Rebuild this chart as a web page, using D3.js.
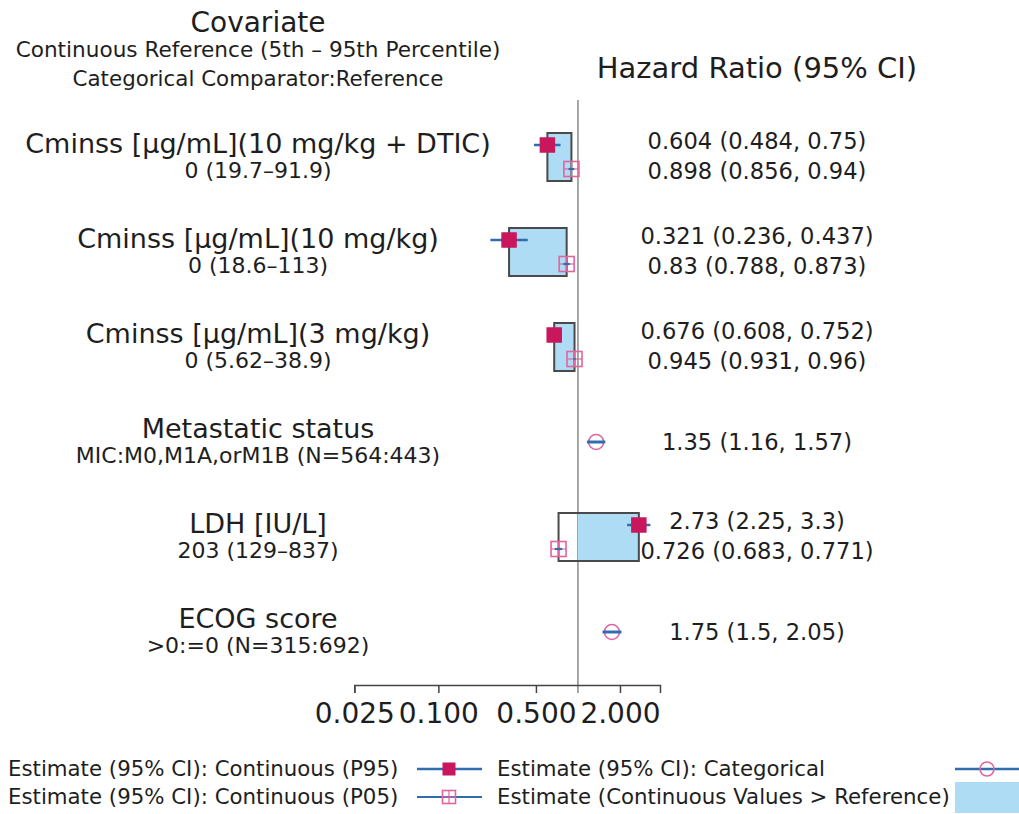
<!DOCTYPE html>
<html>
<head>
<meta charset="utf-8">
<script src="https://cdn.jsdelivr.net/npm/d3@7"></script>
<style>
  html, body { margin: 0; padding: 0; background: #fff; }
  svg { display: block; font-family: "DejaVu Sans", Verdana, sans-serif; }
</style>
</head>
<body>
<svg id="chart" width="1019" height="814"></svg>
<script>
// Covariate rows (top to bottom)
const covariates = [
  "Cminss [µg/mL](10 mg/kg + DTIC)",
  "Cminss [µg/mL](10 mg/kg)",
  "Cminss [µg/mL](3 mg/kg)",
  "Metastatic status",
  "LDH [IU/L]",
  "ECOG score"
];
const subLabels = [
  "0 (19.7–91.9)",
  "0 (18.6–113)",
  "0 (5.62–38.9)",
  "MIC:M0,M1A,orM1B (N=564:443)",
  "203 (129–837)",
  ">0:=0 (N=315:692)"
];

// Continuous covariates: hazard ratio at the 95th percentile
const p95Est = [0.604, 0.321, 0.676, null, 2.73, null];
const p95Lo  = [0.484, 0.236, 0.608, null, 2.25, null];
const p95Hi  = [0.75,  0.437, 0.752, null, 3.3,  null];
// Continuous covariates: hazard ratio at the 5th percentile
const p05Est = [0.898, 0.83,  0.945, null, 0.726, null];
const p05Lo  = [0.856, 0.788, 0.931, null, 0.683, null];
const p05Hi  = [0.94,  0.873, 0.96,  null, 0.771, null];
// Categorical covariates
const catEst = [null, null, null, 1.35, null, 1.75];
const catLo  = [null, null, null, 1.16, null, 1.5];
const catHi  = [null, null, null, 1.57, null, 2.05];

// Axis
const axisTicks = [0.025, 0.1, 0.5, 2];
const axisTickLabels = ["0.025", "0.100", "0.500", "2.000"];
const axisDomain = [0.025, 3.87];
const referenceHR = 1;

const legendLabels = [
  "Estimate (95% CI): Continuous (P95)",
  "Estimate (95% CI): Continuous (P05)",
  "Estimate (95% CI): Categorical",
  "Estimate (Continuous Values > Reference)"
];

const C = {
  text: "#1e1e1e",
  ci: "#2f6db0",
  p95: "#c8175d",
  open: "#e0659d",
  boxFill: "#aedcf5",
  boxStroke: "#4a4a4a",
  refLine: "#8a8a8a",
  axis: "#444"
};

const svg = d3.select("#chart");

const x = d3.scaleLog().domain(axisDomain).range([354.3, 660]);
const rows = d3.range(covariates.length);
const y = d3.scalePoint().domain(rows).range([157, 632]);

const labelX = 258;
const valueX = 757;
const fmtCI = (e, l, h) => `${e} (${l}, ${h})`;

// Column headers
const head = svg.append("g").attr("fill", C.text).attr("text-anchor", "middle");
head.append("text").attr("x", labelX).attr("y", 32).attr("font-size", 28).text("Covariate");
head.append("text").attr("x", labelX).attr("y", 57).attr("font-size", 21.6)
  .text("Continuous Reference (5th – 95th Percentile)");
head.append("text").attr("x", labelX).attr("y", 86).attr("font-size", 21.4)
  .text("Categorical Comparator:Reference");
head.append("text").attr("x", valueX).attr("y", 78).attr("font-size", 29)
  .text("Hazard Ratio (95% CI)");

// Row labels
const lab = svg.append("g").attr("fill", C.text).attr("text-anchor", "middle");
lab.selectAll("text.main").data(rows).join("text").attr("class", "main")
  .attr("x", labelX).attr("y", i => y(i) - 4).attr("font-size", 27)
  .text(i => covariates[i]);
lab.selectAll("text.sub").data(rows).join("text").attr("class", "sub")
  .attr("x", labelX).attr("y", i => y(i) + 21).attr("font-size", 22)
  .text(i => subLabels[i]);

// Reference line at HR = 1
svg.append("line")
  .attr("x1", x(referenceHR)).attr("x2", x(referenceHR))
  .attr("y1", 100).attr("y2", 693)
  .attr("stroke", C.refLine).attr("stroke-width", 1.5);

// X axis
const axis = d3.axisBottom(x)
  .tickValues(axisTicks)
  .tickFormat((d, i) => axisTickLabels[i])
  .tickSize(8).tickSizeOuter(8).tickPadding(10);
const gAxis = svg.append("g").attr("transform", "translate(0,685)").call(axis);
gAxis.select(".domain").attr("stroke", C.axis).attr("stroke-width", 1.5);
gAxis.selectAll(".tick line").attr("stroke", C.axis).attr("stroke-width", 1.5);
gAxis.selectAll(".tick text").attr("font-size", 28)
  .attr("font-family", "DejaVu Sans, Verdana, sans-serif").attr("fill", C.text);

const contRows = rows.filter(i => p95Est[i] != null);
const catRows = rows.filter(i => catEst[i] != null);

// Range box between P05 and P95 estimates; blue part is the side beyond the reference
const boxes = svg.append("g");
contRows.forEach(i => {
  const lo = Math.min(p95Est[i], p05Est[i]);
  const hi = Math.max(p95Est[i], p05Est[i]);
  const ref = Math.max(lo, Math.min(hi, referenceHR));
  const a = Math.min(x(p95Est[i]), x(ref));
  const b = Math.max(x(p95Est[i]), x(ref));
  boxes.append("rect")
    .attr("x", a).attr("y", y(i) - 24).attr("width", b - a).attr("height", 48)
    .attr("fill", C.boxFill);
  boxes.append("rect")
    .attr("x", x(lo)).attr("y", y(i) - 24).attr("width", x(hi) - x(lo)).attr("height", 48)
    .attr("fill", "none").attr("stroke", C.boxStroke).attr("stroke-width", 2);
});

// Marker helpers
function drawP95(g, cx, cy, s) {
  g.append("rect").attr("x", cx - s / 2).attr("y", cy - s / 2)
    .attr("width", s).attr("height", s).attr("fill", C.p95);
}
function drawP05(g, cx, cy, s) {
  g.append("rect").attr("x", cx - s / 2).attr("y", cy - s / 2)
    .attr("width", s).attr("height", s)
    .attr("fill", "none").attr("stroke", C.open).attr("stroke-width", 1.6);
  g.append("line").attr("x1", cx).attr("x2", cx).attr("y1", cy - s / 2).attr("y2", cy + s / 2)
    .attr("stroke", C.open).attr("stroke-width", 1.2);
  g.append("line").attr("x1", cx - s / 2).attr("x2", cx + s / 2).attr("y1", cy).attr("y2", cy)
    .attr("stroke", C.open).attr("stroke-width", 1.2);
}
function drawCat(g, cx, cy, r) {
  g.append("circle").attr("cx", cx).attr("cy", cy).attr("r", r)
    .attr("fill", "none").attr("stroke", C.open).attr("stroke-width", 1.6);
}
function ciLine(g, x1, x2, cy, w) {
  g.append("line").attr("x1", x1).attr("x2", x2).attr("y1", cy).attr("y2", cy)
    .attr("stroke", C.ci).attr("stroke-width", w);
}

const marks = svg.append("g");
contRows.forEach(i => {
  const y95 = y(i) - 12, y05 = y(i) + 12;
  drawP05(marks, x(p05Est[i]), y05, 15);
  ciLine(marks, x(p05Lo[i]), x(p05Hi[i]), y05, 2.2);
  ciLine(marks, x(p95Lo[i]), x(p95Hi[i]), y95, 2.5);
  drawP95(marks, x(p95Est[i]), y95, 15.5);
});
catRows.forEach(i => {
  drawCat(marks, x(catEst[i]), y(i), 7.5);
  ciLine(marks, x(catLo[i]), x(catHi[i]), y(i), 3);
});

// Estimate text column
const vals = svg.append("g").attr("fill", C.text).attr("text-anchor", "middle").attr("font-size", 22.6);
contRows.forEach(i => {
  vals.append("text").attr("x", valueX).attr("y", y(i) - 8)
    .text(fmtCI(p95Est[i], p95Lo[i], p95Hi[i]));
  vals.append("text").attr("x", valueX).attr("y", y(i) + 22)
    .text(fmtCI(p05Est[i], p05Lo[i], p05Hi[i]));
});
catRows.forEach(i => {
  vals.append("text").attr("x", valueX).attr("y", y(i) + 8)
    .text(fmtCI(catEst[i], catLo[i], catHi[i]));
});

// Legend
const leg = svg.append("g").attr("fill", C.text).attr("font-size", 21.3);
const r1 = 769, r2 = 797;
leg.append("text").attr("x", 8).attr("y", r1 + 7).text(legendLabels[0]);
leg.append("text").attr("x", 8).attr("y", r2 + 7).text(legendLabels[1]);
leg.append("text").attr("x", 497).attr("y", r1 + 7).text(legendLabels[2]);
leg.append("text").attr("x", 497).attr("y", r2 + 7).text(legendLabels[3]);
ciLine(leg, 417, 482, r1, 2.5);
drawP95(leg, 449, r1, 13);
ciLine(leg, 417, 482, r2, 2.2);
drawP05(leg, 449, r2, 13);
ciLine(leg, 955, 1019, r1, 2.5);
drawCat(leg, 987, r1, 7);
leg.append("rect").attr("x", 955).attr("y", 782).attr("width", 64).attr("height", 31)
  .attr("fill", C.boxFill);
</script>
</body>
</html>
